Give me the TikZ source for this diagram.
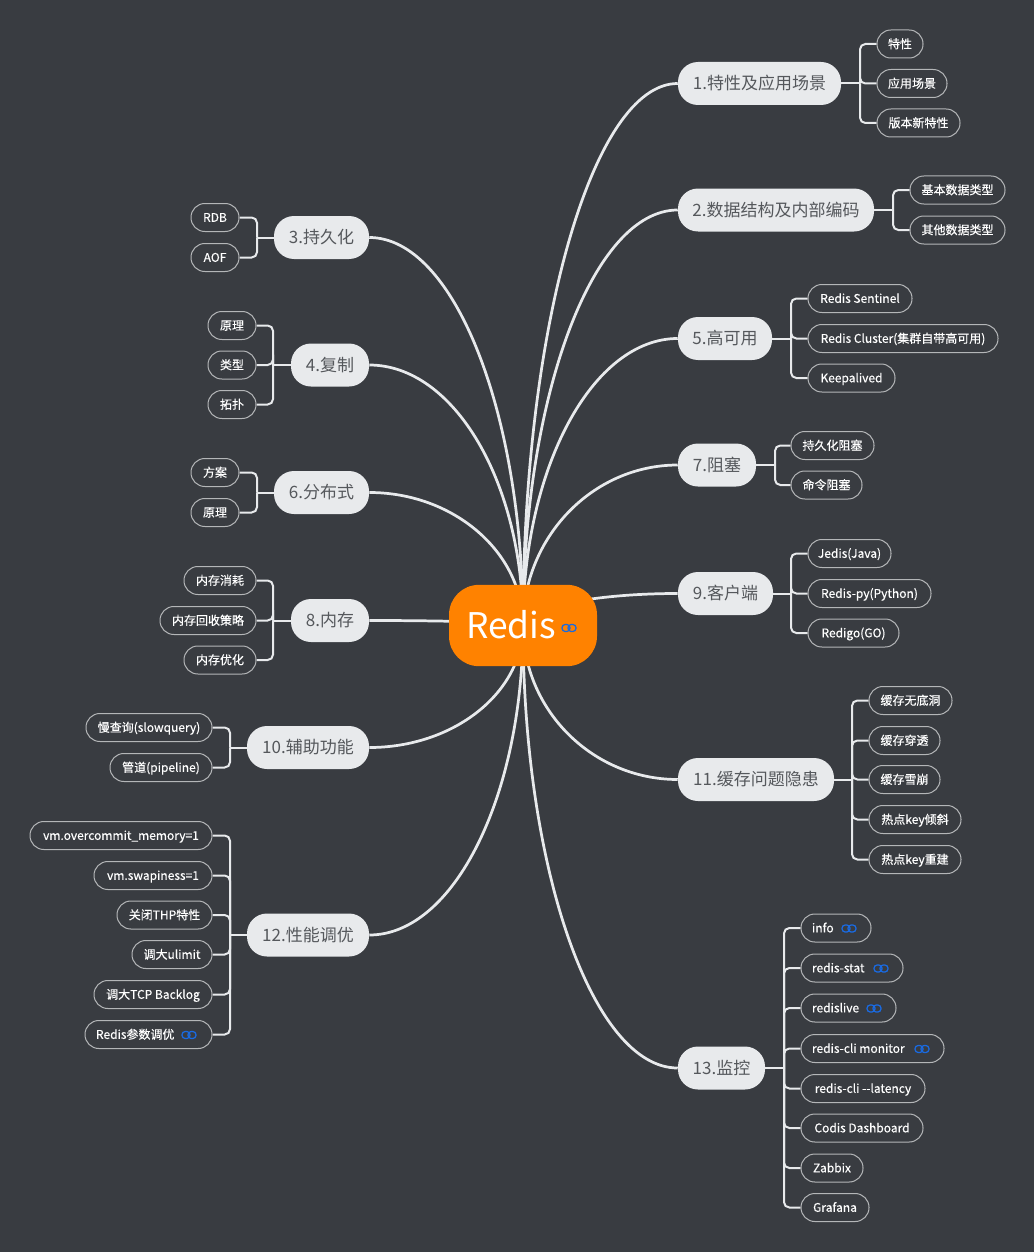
\documentclass[tikz,border=0pt]{standalone}
\usepackage{fontspec}
\setmainfont{Noto Sans CJK SC}
\newfontfamily\kidfont[FakeBold=0.4]{Noto Sans CJK SC}
\usetikzlibrary{calc}
\definecolor{bgc}{HTML}{393C41}
\definecolor{linec}{HTML}{E8EAEC}
\definecolor{topicc}{HTML}{E8EAEC}
\definecolor{topict}{HTML}{55585C}
\definecolor{kidline}{HTML}{B4B6B8}
\definecolor{orangec}{HTML}{FF8200}
\definecolor{linkc}{HTML}{1A6AE0}
\pgfdeclarelayer{canvas}
\pgfdeclarelayer{back}
\pgfsetlayers{canvas,back,main}
\tikzset{
  rootbox/.style={fill=orangec,rounded corners=22.5pt,inner sep=0pt,minimum height=61pt,text=white,font=\fontsize{26.5}{26.5}\selectfont,text height=20pt,text depth=0.5pt},
  topicbox/.style={fill=topicc,rounded corners=15pt,inner sep=0pt,minimum height=32.25pt,text=topict,font=\fontsize{12.75}{12.75}\selectfont,text height=11.5pt,text depth=2.5pt},
  kidbox/.style={draw=kidline,line width=0.75pt,fill=bgc,rounded corners=10.4pt,inner sep=0pt,minimum height=21pt,text=white,font=\kidfont\fontsize{9}{9}\selectfont,text height=8.5pt,text depth=2pt},
  mainline/.style={draw=linec,line width=2.05pt},
  branchline/.style={draw=linec,line width=1.5pt,rounded corners=4pt},
  linkicon/.pic={\draw[draw=linkc,line width=0.95pt,rounded corners=2.4pt] (-7,-3.5) rectangle (1,3.5) (-1,-3.5) rectangle (7,3.5);}
}
% name, x1, x2, y, text
\newcommand\topicR[5]{%
  \node[topicbox,minimum width={(#3-#2)*0.75pt}] (#1) at ({(#2+#3)/2},#4) {#5};
  \begin{pgfonlayer}{back}
  \draw[mainline] (#1.west) .. controls ($(#1.west)!0.55!(root.center|-#1.west)$) and ($(root.center)!0.55!(root.center|-#1.west)$) .. (root.center);
  \end{pgfonlayer}}
\newcommand\topicL[5]{%
  \node[topicbox,minimum width={(#3-#2)*0.75pt}] (#1) at ({(#2+#3)/2},#4) {#5};
  \begin{pgfonlayer}{back}
  \draw[mainline] (#1.east) .. controls ($(#1.east)!0.55!(root.center|-#1.east)$) and ($(root.center)!0.55!(root.center|-#1.east)$) .. (root.center);
  \end{pgfonlayer}}
% junction: name, x, parent, side
\newcommand\junc[4]{%
  \coordinate (#1) at (#2,0 |- #3.#4);
  \begin{pgfonlayer}{back}\draw[branchline] (#3.#4) -- (#1);\end{pgfonlayer}}
% kid on right: name, x1, x2, y, junction, text
\newcommand\kidR[6]{%
  \node[kidbox,minimum width={(#3-#2)*0.75pt}] (#1) at ({(#2+#3)/2},#4) {#6};
  \begin{pgfonlayer}{back}\draw[branchline] (#5) |- (#1.west);\end{pgfonlayer}}
\newcommand\kidL[6]{%
  \node[kidbox,minimum width={(#3-#2)*0.75pt}] (#1) at ({(#2+#3)/2},#4) {#6};
  \begin{pgfonlayer}{back}\draw[branchline] (#5) |- (#1.east);\end{pgfonlayer}}
% text left aligned within the pill, leaving room for the link icon
\newcommand\lft[3]{\makebox[\dimexpr(#1pt-#2pt)*3/4-16.5pt\relax][l]{#3}}
\begin{document}
\begin{tikzpicture}[x=0.75pt,y=-0.75pt]
\useasboundingbox (0,0) rectangle (1034,1252);
\begin{pgfonlayer}{canvas}
\fill[bgc] (0,0) rectangle (1034,1252);
\end{pgfonlayer}
\node[rootbox,minimum width=111pt] (root) at (523,625.5) {\makebox[85pt][l]{Redis}};
\pic at (569,628) {linkicon};

\topicR{t1}{678}{841}{83.5}{1.特性及应用场景}
\junc{j1}{860}{t1}{east}
\kidR{k1a}{877}{923}{44}{j1}{特性}
\kidR{k1b}{877}{947}{83.5}{j1}{应用场景}
\kidR{k1c}{877}{960}{123}{j1}{版本新特性}

\topicR{t2}{678}{874}{210}{2.数据结构及内部编码}
\junc{j2}{893}{t2}{east}
\kidR{k2a}{910}{1005}{190}{j2}{基本数据类型}
\kidR{k2b}{910}{1005}{230}{j2}{其他数据类型}

\topicR{t5}{678}{772}{338.5}{5.高可用}
\junc{j5}{791}{t5}{east}
\kidR{k5a}{808}{912}{298.5}{j5}{Redis Sentinel}
\kidR{k5b}{808}{998}{338.5}{j5}{Redis Cluster(集群自带高可用)}
\kidR{k5c}{808}{895}{378}{j5}{Keepalived}

\topicR{t7}{678}{756}{465}{7.阻塞}
\junc{j7}{775}{t7}{east}
\kidR{k7a}{791}{874}{445.5}{j7}{持久化阻塞}
\kidR{k7b}{791}{862}{485}{j7}{命令阻塞}

\topicR{t9}{678}{773}{593.5}{9.客户端}
\junc{j9}{791}{t9}{east}
\kidR{k9a}{808}{891}{553.5}{j9}{Jedis(Java)}
\kidR{k9b}{808}{931}{593.5}{j9}{Redis-py(Python)}
\kidR{k9c}{808}{899}{633}{j9}{Redigo(GO)}

\topicR{t11}{678}{834}{779.5}{11.缓存问题隐患}
\junc{j11}{852}{t11}{east}
\kidR{k11a}{869}{952}{700.5}{j11}{缓存无底洞}
\kidR{k11b}{869}{940}{740.5}{j11}{缓存穿透}
\kidR{k11c}{869}{940}{779.5}{j11}{缓存雪崩}
\kidR{k11d}{869}{961}{819.5}{j11}{热点key倾斜}
\kidR{k11e}{869}{961}{859.5}{j11}{热点key重建}

\topicR{t13}{678}{765}{1068}{13.监控}
\junc{j13}{784}{t13}{east}
\kidR{k13a}{801}{871}{928}{j13}{\lft{871}{801}{info}}
\pic at (849,928.5) {linkicon};
\kidR{k13b}{801}{903}{968}{j13}{\lft{903}{801}{redis-stat}}
\pic at (881,968.5) {linkicon};
\kidR{k13c}{801}{896}{1008}{j13}{\lft{896}{801}{redislive}}
\pic at (874,1008.5) {linkicon};
\kidR{k13d}{801}{944}{1048.5}{j13}{\lft{944}{801}{redis-cli monitor}}
\pic at (922,1049) {linkicon};
\kidR{k13e}{801}{925}{1088.5}{j13}{redis-cli --latency}
\kidR{k13f}{801}{923}{1128}{j13}{Codis Dashboard}
\kidR{k13g}{801}{863}{1168}{j13}{Zabbix}
\kidR{k13h}{801}{869}{1207.5}{j13}{Grafana}

\topicL{t3}{274}{369}{237.5}{3.持久化}
\junc{j3}{257}{t3}{west}
\kidL{k3a}{191}{239}{217.5}{j3}{RDB}
\kidL{k3b}{191}{239}{257.5}{j3}{AOF}

\topicL{t4}{291}{369}{365}{4.复制}
\junc{j4}{273}{t4}{west}
\kidL{k4a}{208}{256}{325.5}{j4}{原理}
\kidL{k4b}{208}{256}{365}{j4}{类型}
\kidL{k4c}{208}{256}{404.5}{j4}{拓扑}

\topicL{t6}{274}{369}{492.5}{6.分布式}
\junc{j6}{257}{t6}{west}
\kidL{k6a}{191}{239}{472.5}{j6}{方案}
\kidL{k6b}{191}{239}{512.5}{j6}{原理}

\topicL{t8}{291}{369}{620.5}{8.内存}
\junc{j8}{273}{t8}{west}
\kidL{k8a}{184}{256}{580.5}{j8}{内存消耗}
\kidL{k8b}{160}{256}{620.5}{j8}{内存回收策略}
\kidL{k8c}{184}{256}{660}{j8}{内存优化}

\topicL{t10}{247}{369}{747.5}{10.辅助功能}
\junc{j10}{230}{t10}{west}
\kidL{k10a}{86}{212}{727.5}{j10}{慢查询(slowquery)}
\kidL{k10b}{110}{212}{767.5}{j10}{管道(pipeline)}

\topicL{t12}{247}{369}{935}{12.性能调优}
\junc{j12}{230}{t12}{west}
\kidL{k12a}{30}{212}{835.5}{j12}{vm.overcommit\_memory=1}
\kidL{k12b}{94}{212}{875.5}{j12}{vm.swapiness=1}
\kidL{k12c}{117}{212}{915}{j12}{关闭THP特性}
\kidL{k12d}{132}{212}{954.5}{j12}{调大ulimit}
\kidL{k12e}{94}{212}{994.5}{j12}{调大TCP Backlog}
\kidL{k12f}{85}{212}{1034.5}{j12}{\lft{212}{85}{Redis参数调优}}
\pic at (189,1035) {linkicon};
\end{tikzpicture}
\end{document}
